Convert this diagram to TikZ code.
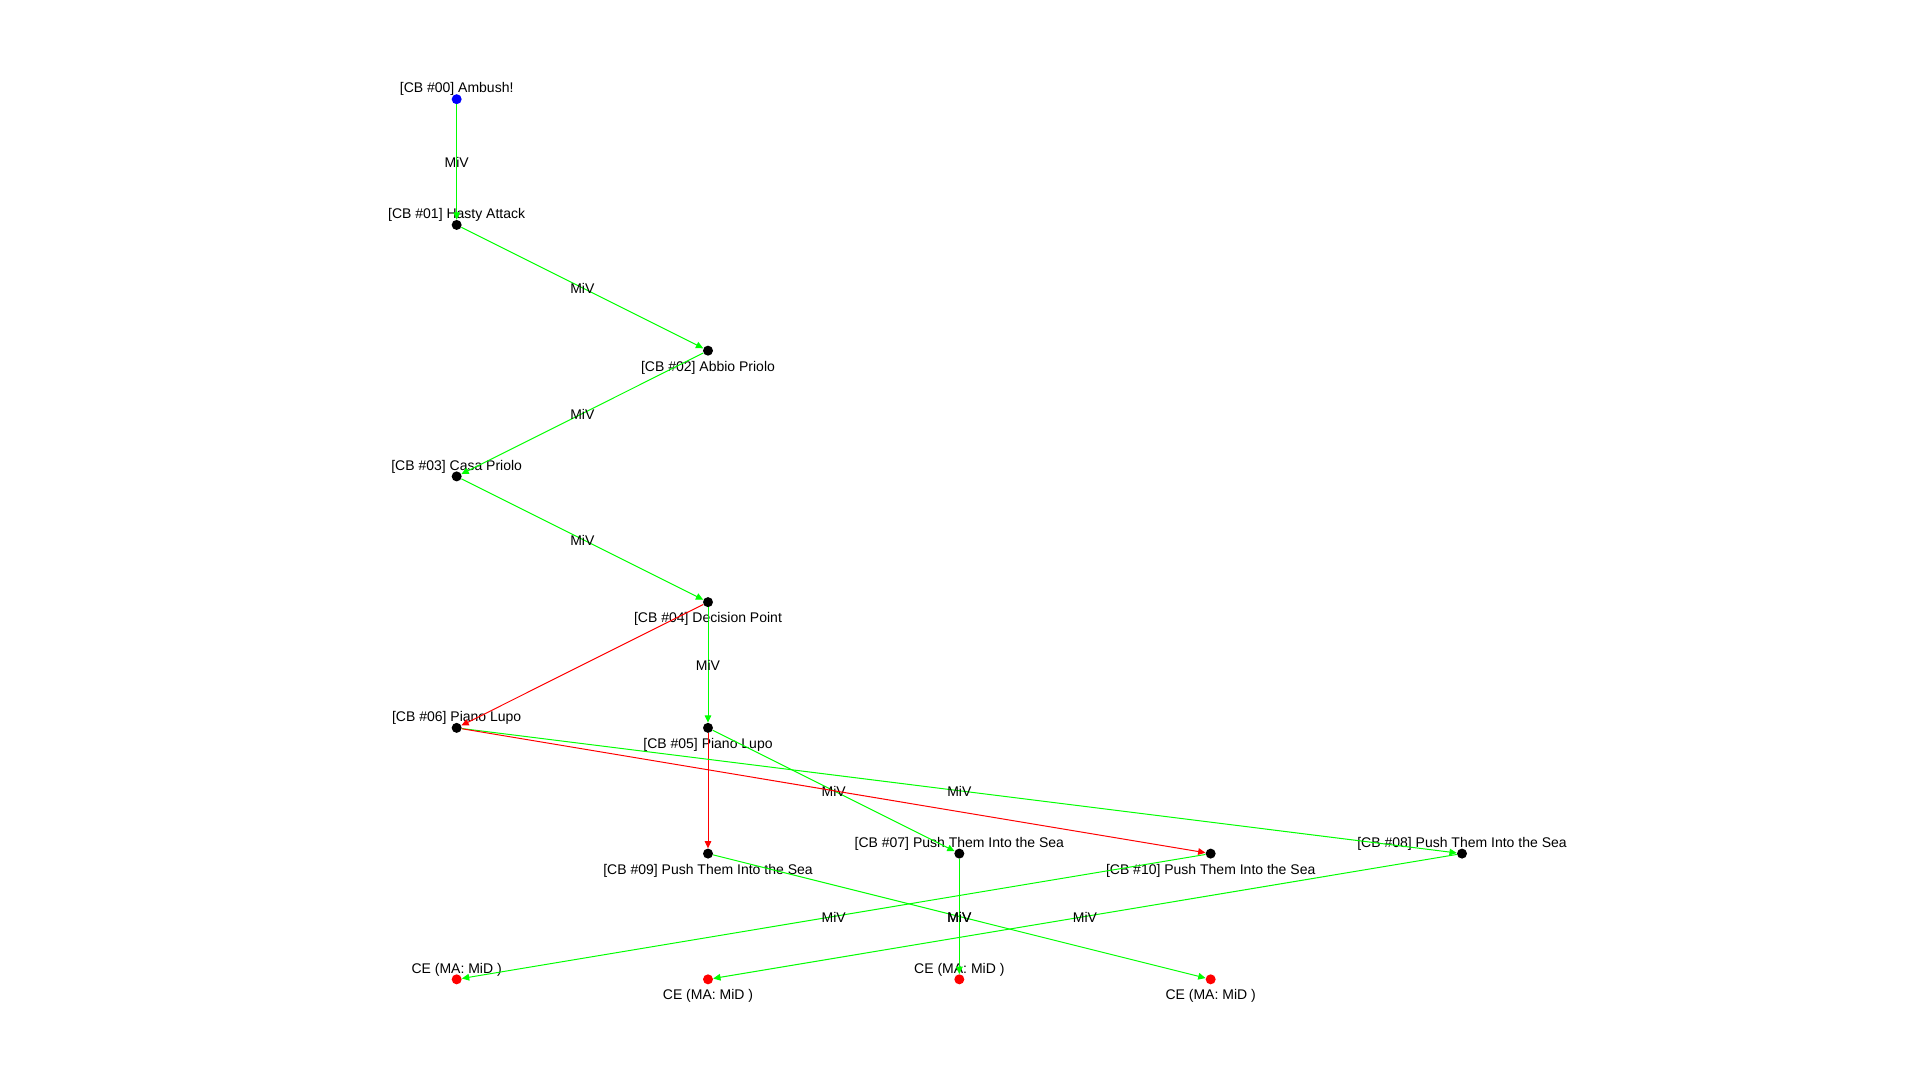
\documentclass[tikz,border=0pt]{standalone}
\usepackage{fontspec}
\setmainfont{Liberation Sans}
\usetikzlibrary{arrows.meta}
\begin{document}
\begin{tikzpicture}[x=188.5pt,y=-94.3pt,
  font=\fontsize{10.5}{12}\selectfont,
  cb/.style={circle,fill=black,inner sep=0pt,minimum size=7.5pt},
  ce/.style={cb,fill=red},
  lbl/.style={inner sep=1pt,yshift=-2.6pt},
  edgelbl/.style={inner sep=1pt,yshift=-0.6pt},
  miv/.style={draw=green,line width=0.75pt,-{Triangle[length=5.5pt,width=5pt]}},
  alt/.style={miv,draw=red}]
\useasboundingbox (-342.5pt,74.4pt) rectangle (1097.5pt,-735.6pt);
% combat blocks
\node[cb,fill=blue,label={[lbl]above:{[CB \#00] Ambush!}}] (n00) at (0,0) {};
\node[cb,label={[lbl]above:{[CB \#01] Hasty Attack}}] (n01) at (0,1) {};
\node[cb,label={[lbl]below:{[CB \#02] Abbio Priolo}}] (n02) at (1,2) {};
\node[cb,label={[lbl]above:{[CB \#03] Casa Priolo}}] (n03) at (0,3) {};
\node[cb,label={[lbl]below:{[CB \#04] Decision Point}}] (n04) at (1,4) {};
\node[cb,label={[lbl]below:{[CB \#05] Piano Lupo}}] (n05) at (1,5) {};
\node[cb,label={[lbl]above:{[CB \#06] Piano Lupo}}] (n06) at (0,5) {};
\node[cb,label={[lbl]below:{[CB \#09] Push Them Into the Sea}}] (n09) at (1,6) {};
\node[cb,label={[lbl]above:{[CB \#07] Push Them Into the Sea}}] (n07) at (2,6) {};
\node[cb,label={[lbl]below:{[CB \#10] Push Them Into the Sea}}] (n10) at (3,6) {};
\node[cb,label={[lbl]above:{[CB \#08] Push Them Into the Sea}}] (n08) at (4,6) {};
% end states
\node[ce,label={[lbl]above:{CE (MA: MiD )}}] (ce1) at (0,7) {};
\node[ce,label={[lbl]below:{CE (MA: MiD )}}] (ce2) at (1,7) {};
\node[ce,label={[lbl]above:{CE (MA: MiD )}}] (ce3) at (2,7) {};
\node[ce,label={[lbl]below:{CE (MA: MiD )}}] (ce4) at (3,7) {};
% links
\draw[miv] (n00) -- node[edgelbl]{MiV} (n01);
\draw[miv] (n01) -- node[edgelbl]{MiV} (n02);
\draw[miv] (n02) -- node[edgelbl]{MiV} (n03);
\draw[miv] (n03) -- node[edgelbl]{MiV} (n04);
\draw[miv] (n04) -- node[edgelbl]{MiV} (n05);
\draw[alt] (n04) -- (n06);
\draw[alt] (n05) -- (n09);
\draw[miv] (n05) -- node[edgelbl]{MiV} (n07);
\draw[miv] (n06) -- node[edgelbl]{MiV} (n08);
\draw[alt] (n06) -- (n10);
\draw[miv] (n09) -- node[edgelbl]{MiV} (ce4);
\draw[miv] (n07) -- node[edgelbl]{MiV} (ce3);
\draw[miv] (n10) -- node[edgelbl]{MiV} (ce1);
\draw[miv] (n08) -- node[edgelbl]{MiV} (ce2);
\end{tikzpicture}
\end{document}
